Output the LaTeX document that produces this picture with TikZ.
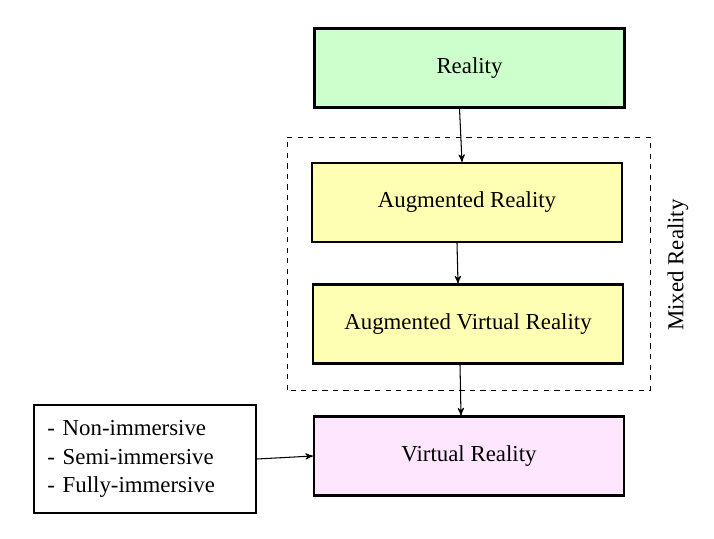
\documentclass[tikz,border=0pt]{standalone}
\usepackage{fontspec}
\setmainfont{Liberation Serif}
\usetikzlibrary{arrows}
\definecolor{realgreen}{HTML}{CCFFCC}
\definecolor{augyellow}{HTML}{FFFFB3}
\definecolor{virtpink}{HTML}{FFE6FF}

\begin{document}
\begin{tikzpicture}[->,>=stealth',semithick,
  level/.style={draw,line width=1.2pt,minimum width=6.2cm,minimum height=1.58cm,font=\fontsize{13}{16}\selectfont}]
  \useasboundingbox (0,0) rectangle (14.28,10.76);

  \node[level,fill=realgreen]  (R)   at (9.39,9.40) {Reality};
  \node[level,fill=augyellow]  (AR)  at (9.34,6.71) {Augmented Reality};
  \node[level,fill=augyellow]  (AVR) at (9.36,4.28) {Augmented Virtual Reality};
  \node[level,fill=virtpink]   (VR)  at (9.38,1.64) {Virtual Reality};
  \node[draw,line width=1.2pt,minimum width=4.44cm,minimum height=2.16cm,text width=3.9cm,align=left,
        font=\fontsize{13}{16}\selectfont] (I) at (2.90,1.58)
        {- Non-immersive\\- Semi-immersive\\- Fully-immersive};

  \draw[-,dashed,thin] (5.74,2.96) rectangle (13.0,8.02);
  \node[rotate=90,font=\fontsize{13}{16}\selectfont] (MR) at (13.56,5.46) {Mixed Reality};

  \path ([xshift=-0.2cm]R.south) edge ([xshift=-0.1cm]AR.north)
        ([xshift=-0.2cm]AR.south) edge ([xshift=-0.2cm]AVR.north)
        ([xshift=-0.16cm]AVR.south) edge ([xshift=-0.16cm]VR.north)
        (I.east) edge (VR.west);
\end{tikzpicture}
\end{document}
